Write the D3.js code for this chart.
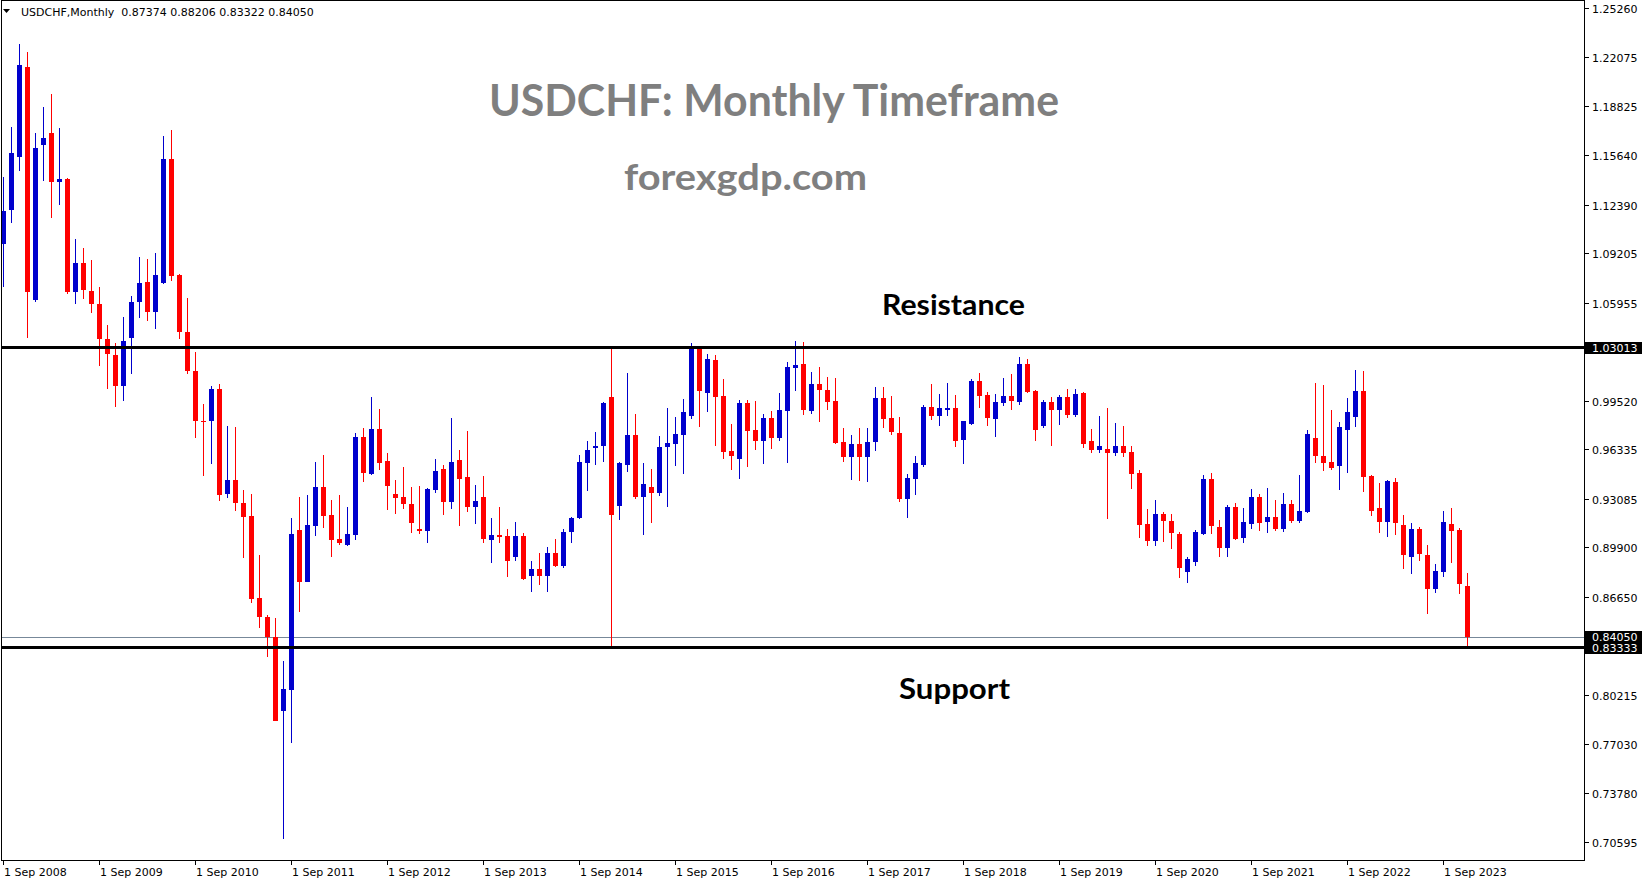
<!DOCTYPE html>
<html><head><meta charset="utf-8">
<script src="https://cdn.jsdelivr.net/npm/d3@7"></script>
<style>body{margin:0;background:#fff;overflow:hidden}svg{display:block}</style>
</head><body><svg id="chart" width="1649" height="884"></svg>
<script>
// ---- DATA (monthly USDCHF, Sep 2008 .. Dec 2023) ----
const firstMonth = "Sep 2008";
const opens = [1.0980,1.1203,1.1550,1.2143,1.0613,1.1628,1.1711,1.1385,1.1409,1.0665,1.0857,1.0675,
1.0589,1.0360,1.0250,1.0048,1.0363,1.0600,1.0733,1.0535,1.0727,1.1539,1.0775,1.0401,
1.0150,0.9821,0.9818,1.0030,0.9341,0.9434,0.9283,0.9194,0.8655,0.8535,0.8402,0.7919,
0.8056,0.9104,0.8765,0.9130,0.9386,0.9202,0.9045,0.9006,0.9071,0.9716,0.9471,0.9767,
0.9557,0.9340,0.9320,0.9275,0.9113,0.9100,0.9369,0.9504,0.9290,0.9563,0.9452,0.9255,
0.9320,0.9041,0.9071,0.9065,0.8929,0.9065,0.8805,0.8848,0.8805,0.8953,0.8870,0.9089,
0.9185,0.9546,0.9644,0.9657,0.9977,0.9264,0.9530,0.9727,0.9323,0.9386,0.9349,0.9651,
0.9670,0.9729,0.9854,1.0296,1.0005,1.0219,0.9983,0.9622,0.9572,0.9937,0.9760,0.9690,
0.9839,0.9710,0.9887,1.0169,1.0193,0.9887,1.0062,1.0022,0.9952,0.9681,0.9585,0.9668,
0.9585,0.9684,0.9970,0.9839,0.9740,0.9310,0.9441,0.9533,0.9911,0.9854,0.9894,0.9904,
0.9697,0.9800,1.0082,0.9990,0.9834,0.9940,0.9983,0.9944,1.0193,1.0016,0.9789,0.9944,
0.9894,0.9977,0.9861,1.0003,0.9688,0.9631,0.9635,0.9611,0.9655,0.9616,0.9478,0.9143,
0.9034,0.9209,0.9163,0.9080,0.8831,0.8896,0.9080,0.9439,0.9124,0.8988,0.9255,0.9054,
0.9146,0.9321,0.9159,0.9189,0.9113,0.9275,0.9165,0.9222,0.9708,0.9590,0.9550,0.9524,
0.9760,0.9845,1.0016,0.9458,0.9248,0.9157,0.9419,0.9137,0.8929,0.9111,0.8940,0.8719,
0.8831,0.9143,0.9104,0.87374];
const highs = [1.1419,1.1745,1.2294,1.2242,1.1711,1.1882,1.1961,1.1738,1.1412,1.1015,1.0956,1.0877,
1.0699,1.0452,1.0332,1.0504,1.0641,1.0898,1.0884,1.0922,1.1690,1.1731,1.0785,1.0624,
1.0274,0.9928,1.0051,1.0061,0.9784,0.9777,0.9369,0.9338,0.8943,0.8549,0.8525,0.8245,
0.9181,0.9323,0.9334,0.9552,0.9596,0.9301,0.9334,0.9257,0.9743,0.9775,0.9979,0.9900,
0.9611,0.9432,0.9520,0.9388,0.9391,0.9377,0.9570,0.9530,0.9841,0.9629,0.9756,0.9399,
0.9458,0.9185,0.9257,0.9113,0.9159,0.9087,0.8901,0.8955,0.8995,0.9043,0.9113,0.9192,
0.9596,0.9688,0.9747,0.9942,1.0296,0.9552,1.0136,0.9865,0.9546,0.9504,0.9721,0.9904,
0.9845,0.9963,1.0333,1.0300,1.0261,1.0252,1.0095,0.9802,0.9957,0.9957,0.9953,0.9865,
0.9885,1.0003,1.0204,1.0344,1.0337,1.0143,1.0173,1.0106,1.0102,0.9773,0.9727,0.9773,
0.9773,1.0042,1.0042,0.9983,0.9845,0.9471,0.9590,0.9924,1.0062,0.9996,1.0068,0.9990,
0.9819,1.0095,1.0134,1.0009,0.9996,1.0101,1.0128,1.0239,1.0226,1.0023,0.9957,0.9977,
0.9990,1.0029,1.0029,1.0009,0.9769,0.9852,0.9904,0.9806,0.9786,0.9655,0.9498,0.9242,
0.9301,0.9220,0.9209,0.9093,0.8927,0.9104,0.9465,0.9478,0.9170,0.9268,0.9281,0.9248,
0.9373,0.9340,0.9380,0.9301,0.9347,0.9301,0.9465,0.9760,1.0068,1.0055,0.9891,0.9813,
0.9970,1.0154,1.0147,0.9465,0.9412,0.9432,0.9445,0.9205,0.9150,0.9124,0.9006,0.8881,
0.9229,0.9248,0.9117,0.88206];
const lows = [1.0699,1.1117,1.1460,1.0363,1.0600,1.1392,1.1152,1.1234,1.0651,1.0586,1.0620,1.0528,
1.0181,1.0027,0.9910,0.9952,1.0126,1.0493,1.0476,1.0425,1.0720,1.0740,1.0356,1.0130,
0.9708,0.9458,0.9540,0.9293,0.9314,0.9228,0.8919,0.8625,0.8463,0.8271,0.7850,0.7075,
0.7709,0.8568,0.8761,0.9065,0.9115,0.8929,0.9006,0.8999,0.9039,0.9421,0.9465,0.9498,
0.9235,0.9211,0.9242,0.9082,0.9075,0.9021,0.9349,0.9202,0.9242,0.9130,0.9224,0.9143,
0.9021,0.8890,0.9021,0.8798,0.8903,0.8776,0.8700,0.8743,0.8700,0.8864,0.8857,0.9021,
0.9174,0.9360,0.9530,0.9552,0.8340,0.9170,0.9487,0.9307,0.9071,0.9152,0.9327,0.9257,
0.9526,0.9474,0.9830,0.9782,0.9880,0.9655,0.9572,0.9498,0.9439,0.9520,0.9629,0.9537,
0.9635,0.9690,0.9546,1.0018,0.9861,0.9867,0.9815,0.9891,0.9670,0.9552,0.9434,0.9428,
0.9421,0.9625,0.9775,0.9730,0.9290,0.9185,0.9336,0.9516,0.9828,0.9789,0.9854,0.9651,
0.9537,0.9795,0.9904,0.9789,0.9716,0.9920,0.9894,0.9926,1.0001,0.9690,0.9775,0.9657,
0.9795,0.9841,0.9848,0.9644,0.9609,0.9609,0.9178,0.9592,0.9585,0.9375,0.9054,0.9001,
0.9001,0.9025,0.8979,0.8789,0.8759,0.8870,0.9073,0.9080,0.8929,0.8929,0.9040,0.9021,
0.9113,0.9100,0.9087,0.9100,0.9093,0.9152,0.9152,0.9218,0.9544,0.9491,0.9498,0.9366,
0.9478,0.9780,0.9353,0.9196,0.9084,0.9058,0.9073,0.8848,0.8818,0.8903,0.8555,0.8693,
0.8798,0.8890,0.8686,0.83322];
const closes = [1.1196,1.1574,1.2156,1.0665,1.1611,1.1676,1.1385,1.1409,1.0665,1.0857,1.0679,1.0586,
1.0356,1.0257,1.0048,1.0346,1.0603,1.0727,1.0535,1.0775,1.1539,1.0771,1.0401,1.0147,
0.9818,0.9814,1.0030,0.9334,0.9434,0.9283,0.9190,0.8652,0.8535,0.8402,0.7853,0.8061,
0.9078,0.8765,0.9137,0.9386,0.9196,0.9039,0.9021,0.9078,0.9716,0.9480,0.9767,0.9546,
0.9395,0.9316,0.9277,0.9152,0.9100,0.9373,0.9491,0.9290,0.9550,0.9439,0.9255,0.9294,
0.9047,0.9071,0.9058,0.8903,0.9065,0.8785,0.8848,0.8805,0.8953,0.8870,0.9091,0.9183,
0.9550,0.9629,0.9657,0.9937,0.9205,0.9541,0.9727,0.9323,0.9406,0.9349,0.9649,0.9675,
0.9734,0.9878,1.0296,1.0018,1.0226,0.9979,0.9618,0.9592,0.9937,0.9756,0.9690,0.9839,
0.9710,0.9891,1.0173,1.0186,0.9893,1.0062,1.0022,0.9946,0.9675,0.9585,0.9668,0.9585,
0.9681,0.9970,0.9834,0.9749,0.9310,0.9445,0.9544,0.9911,0.9854,0.9904,0.9904,0.9690,
0.9819,1.0082,0.9985,0.9841,0.9944,0.9983,0.9953,1.0193,1.0012,0.9762,0.9944,0.9894,
0.9977,0.9861,0.9996,0.9670,0.9631,0.9657,0.9611,0.9655,0.9611,0.9474,0.9139,0.9034,
0.9209,0.9163,0.9087,0.8857,0.8914,0.9091,0.9439,0.9132,0.8988,0.9255,0.9047,0.9157,
0.9321,0.9152,0.9189,0.9113,0.9275,0.9165,0.9229,0.9734,0.9590,0.9544,0.9511,0.9780,
0.9878,1.0016,0.9452,0.9229,0.9157,0.9426,0.9150,0.8942,0.9111,0.8949,0.8719,0.8835,
0.9157,0.9100,0.8752,0.84050];
const dateTicks = ["1 Sep 2008","1 Sep 2009","1 Sep 2010","1 Sep 2011","1 Sep 2012","1 Sep 2013","1 Sep 2014","1 Sep 2015","1 Sep 2016","1 Sep 2017","1 Sep 2018","1 Sep 2019","1 Sep 2020","1 Sep 2021","1 Sep 2022","1 Sep 2023"];
const priceTicks = ["1.25260","1.22075","1.18825","1.15640","1.12390","1.09205","1.05955","0.99520","0.96335","0.93085","0.89900","0.86650","0.80215","0.77030","0.73780","0.70595"];
const resistanceLevel = 1.03013;
const supportLevel = 0.83333;
const lastPrice = 0.84050;
const headerText = "USDCHF,Monthly  0.87374 0.88206 0.83322 0.84050";
const titleText = "USDCHF: Monthly Timeframe";
const siteText = "forexgdp.com";

// ---- LAYOUT ----
const svg = d3.select('#chart');
const P = {left:2, top:1, right:1584, bottom:861};
const y = d3.scaleLinear().domain([supportLevel, resistanceLevel]).range([647.5, 347.5]);
const x = d3.scaleLinear().domain([0, 1]).range([3.5, 11.5]);
const UP = '#0000cd', DOWN = '#ff0000';
const axisFont = 'DejaVu Sans, Verdana, sans-serif';

svg.append('rect').attr('width',1649).attr('height',884).attr('fill','#fff');

const defs = svg.append('defs');
defs.append('clipPath').attr('id','plotclip').append('rect')
  .attr('x',P.left).attr('y',P.top).attr('width',P.right-P.left).attr('height',P.bottom-P.top);

const g = svg.append('g').attr('clip-path','url(#plotclip)').attr('shape-rendering','crispEdges');

// horizontal lines
g.append('line').attr('x1',P.left).attr('x2',P.right)
  .attr('y1',Math.round(y(lastPrice))+0.5).attr('y2',Math.round(y(lastPrice))+0.5)
  .attr('stroke','#778899').attr('stroke-width',1);

const candles = d3.range(opens.length).map(i => ({i, o:opens[i], h:highs[i], l:lows[i], c:closes[i]}));
const cg = g.append('g');
cg.selectAll('rect.wick').data(candles).join('rect').attr('class','wick')
  .attr('x', d => Math.floor(x(d.i)))
  .attr('width', 1)
  .attr('y', d => y(d.h))
  .attr('height', d => Math.max(1, y(d.l) - y(d.h)))
  .attr('fill', d => d.c >= d.o ? UP : DOWN);
cg.selectAll('rect.body').data(candles).join('rect').attr('class','body')
  .attr('x', d => Math.floor(x(d.i)) - 2)
  .attr('width', 5)
  .attr('y', d => y(Math.max(d.o, d.c)))
  .attr('height', d => Math.max(1, y(Math.min(d.o, d.c)) - y(Math.max(d.o, d.c))))
  .attr('fill', d => d.c >= d.o ? UP : DOWN);

[resistanceLevel, supportLevel].forEach(v => {
  g.append('line').attr('x1',P.left).attr('x2',P.right)
    .attr('y1',y(v)).attr('y2',y(v)).attr('stroke','#000').attr('stroke-width',3);
});

// frame
svg.append('rect').attr('x',P.left-0.5).attr('y',P.top-0.5)
  .attr('width',P.right-P.left+1).attr('height',P.bottom-P.top)
  .attr('fill','none').attr('stroke','#000').attr('stroke-width',1).attr('shape-rendering','crispEdges');

// right price axis
const ax = svg.append('g').attr('font-family',axisFont).attr('font-size','11px');
priceTicks.forEach(t => {
  const yy = Math.round(y(+t)) + 0.5;
  ax.append('line').attr('x1',P.right+0.5).attr('x2',P.right+4.5).attr('y1',yy).attr('y2',yy)
    .attr('stroke','#000').attr('shape-rendering','crispEdges');
  ax.append('text').attr('x',1592).attr('y',yy+4).attr('fill','#000').text(t);
});
[[resistanceLevel,'1.03013'],[lastPrice,'0.84050'],[supportLevel,'0.83333']].forEach(([v,label]) => {
  const yy = y(v);
  ax.append('rect').attr('x',P.right+1).attr('y',Math.round(yy-6)).attr('width',57).attr('height',12)
    .attr('fill','#000').attr('shape-rendering','crispEdges');
  ax.append('text').attr('x',1592).attr('y',Math.round(yy)+4).attr('fill','#fff').text(label);
});

// bottom date axis
dateTicks.forEach((t,k) => {
  const xx = Math.floor(x(12*k)) + 0.5;
  ax.append('line').attr('x1',xx).attr('x2',xx).attr('y1',P.bottom).attr('y2',P.bottom+4)
    .attr('stroke','#000').attr('shape-rendering','crispEdges');
  ax.append('text').attr('x',xx+0.5).attr('y',876).attr('fill','#000').text(t);
});

// header
svg.append('path').attr('d','M3,9 L10,9 L6.5,13 Z').attr('fill','#000');
svg.append('text').attr('x',21).attr('y',16).attr('font-family',axisFont).attr('font-size','11px')
  .attr('xml:space','preserve').style('white-space','pre').attr('fill','#000').text(headerText);

// titles
function fitText(txt, x0, width, base, size, color) {
  const t = svg.append('text').attr('x',x0).attr('y',base)
    .attr('font-family','Lato, "Open Sans", sans-serif').attr('font-weight',700)
    .attr('font-size',size+'px').attr('fill',color).text(txt);
  const w = t.node().getComputedTextLength();
  if (Math.abs(w - width) > 1) t.attr('textLength',width).attr('lengthAdjust','spacingAndGlyphs');
  return t;
}
fitText(titleText, 489, 570, 116, 44, '#7f7f7f');
fitText(siteText, 624, 243, 190, 36, '#7f7f7f');
fitText('Resistance', 882, 143, 315, 29, '#000');
fitText('Support', 899, 111, 699, 29, '#000');
</script></body></html>
